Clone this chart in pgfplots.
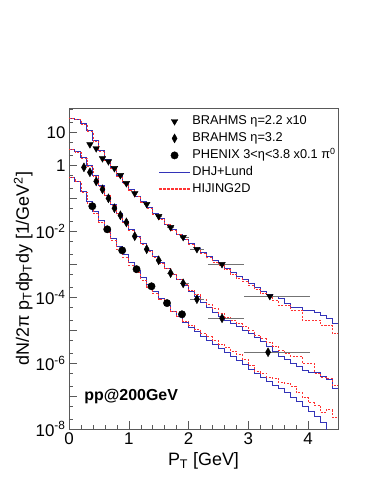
\documentclass[border=0pt]{standalone}
\usepackage{pgfplots}
\pgfplotsset{compat=1.18}
\usepackage{fontspec}
\setmainfont{Liberation Sans}
\definecolor{dhj}{rgb}{0.2,0.2,0.72}
\definecolor{hij}{rgb}{1,0.2,0.2}
\pgfplotsset{
  markleg/.style={legend image code/.code={\draw[##1] plot coordinates {(15.5bp,0bp)};}},
}
\begin{document}
\begin{tikzpicture}
\begin{axis}[
  at={(0,0)}, anchor=south west,
  width=269bp, height=321bp, scale only axis,
  xmin=0, xmax=4.5, ymode=log, ymin=1e-8, ymax=55,
  xtick={0,1,2,3,4}, xticklabels={0,1,2,3,4},
  minor x tick num=4,
  ytick={1e-8,1e-7,1e-6,1e-5,1e-4,1e-3,1e-2,1e-1,1,10},
  yticklabels={10\textsuperscript{-8},,10\textsuperscript{-6},,10\textsuperscript{-4},,10\textsuperscript{-2},,1,10},
  minor ytick={2e-8,5e-8,2e-7,5e-7,2e-6,5e-6,2e-5,5e-5,2e-4,5e-4,2e-3,5e-3,2e-2,5e-2,0.2,0.5,2,5,20,50},
  tick label style={font=\fontsize{17}{17}\selectfont},
  xlabel={P\textsubscript{T} [GeV]},
  ylabel={dN/2π p\textsubscript{T}dp\textsubscript{T}dy [1/GeV\textsuperscript{2}]},
  label style={font=\fontsize{18}{18}\selectfont},
  xlabel style={at={(axis description cs:0.5,-0.1)}, anchor=center},
  ylabel style={at={(axis description cs:-0.17,0.5)}, anchor=center},
  tick align=inside, xtick pos=bottom, ytick pos=left,
  major tick length=8bp, minor tick length=4bp,
  axis line style={black!65}, every tick/.style={black!65},
  legend cell align=left,
  legend style={draw=none, fill=none, at={(0.32,0.99)}, anchor=north west,
    font=\fontsize{12.8}{13}\selectfont,
    nodes={text height=10bp, text depth=3bp, inner sep=1.5bp}, row sep=1bp},
]
% ---- DHJ+Lund (blue) and HIJING2D (red dashed) histograms ----
\addplot[const plot mark left, color=dhj, line width=1bp, forget plot] coordinates {
(0,26.92)(0.1,25.12)(0.2,19.05)(0.3,11.22)(0.4,5.754)(0.5,2.818)(0.6,1.479)(0.7,0.8318)(0.8,0.5012)(0.9,0.3020)(1.0,0.1862)(1.1,0.1175)(1.2,7.762e-2)(1.3,5.129e-2)(1.4,3.467e-2)(1.5,2.399e-2)(1.6,1.660e-2)(1.7,1.148e-2)(1.8,8.128e-3)(1.9,5.754e-3)(2.0,4.169e-3)(2.1,3.020e-3)(2.2,2.239e-3)(2.3,1.660e-3)(2.4,1.259e-3)(2.5,9.550e-4)(2.6,7.413e-4)(2.7,5.623e-4)(2.8,4.365e-4)(2.9,3.388e-4)(3.0,2.630e-4)(3.1,1.995e-4)(3.2,1.514e-4)(3.3,1.175e-4)(3.4,1.047e-4)(3.5,9.333e-5)(3.6,6.607e-5)(3.7,5.012e-5)(3.8,5.012e-5)(3.9,4.074e-5)(4.0,4.074e-5)(4.1,3.548e-5)(4.2,2.818e-5)(4.3,2.291e-5)(4.4,1.622e-5)(4.5,1.622e-5)};
\addplot[const plot mark left, color=hij, line width=0.8bp, dash pattern=on 2bp off 1.5bp, forget plot] coordinates {
(0,26.30)(0.1,24.55)(0.2,17.78)(0.3,10.47)(0.4,5.370)(0.5,2.692)(0.6,1.413)(0.7,0.7943)(0.8,0.4786)(0.9,0.2884)(1.0,0.1778)(1.1,0.1122)(1.2,7.413e-2)(1.3,4.898e-2)(1.4,3.311e-2)(1.5,2.291e-2)(1.6,1.585e-2)(1.7,1.096e-2)(1.8,7.762e-3)(1.9,5.495e-3)(2.0,3.981e-3)(2.1,2.884e-3)(2.2,2.138e-3)(2.3,1.585e-3)(2.4,1.175e-3)(2.5,8.913e-4)(2.6,6.761e-4)(2.7,5.012e-4)(2.8,3.802e-4)(2.9,3.020e-4)(3.0,2.239e-4)(3.1,1.778e-4)(3.2,1.318e-4)(3.3,1.047e-4)(3.4,7.943e-5)(3.5,5.754e-5)(3.6,5.754e-5)(3.7,4.074e-5)(3.8,4.074e-5)(3.9,1.995e-5)(4.0,1.995e-5)(4.1,1.995e-5)(4.2,1.413e-5)(4.3,1.413e-5)(4.4,7.943e-6)(4.5,7.943e-6)};
\addplot[const plot mark left, color=dhj, line width=1bp, forget plot] coordinates {
(0,3.090)(0.1,2.630)(0.2,1.778)(0.3,1.0)(0.4,0.5012)(0.5,0.2512)(0.6,0.1259)(0.7,6.607e-2)(0.8,3.548e-2)(0.9,1.995e-2)(1.0,1.122e-2)(1.1,6.761e-3)(1.2,4.169e-3)(1.3,2.630e-3)(1.4,1.738e-3)(1.5,1.148e-3)(1.6,7.586e-4)(1.7,5.012e-4)(1.8,3.388e-4)(1.9,2.291e-4)(2.0,1.514e-4)(2.1,1.047e-4)(2.2,7.079e-5)(2.3,5.012e-5)(2.4,3.548e-5)(2.5,2.630e-5)(2.6,1.995e-5)(2.7,1.585e-5)(2.8,1.259e-5)(2.9,1.0e-5)(3.0,7.943e-6)(3.1,6.026e-6)(3.2,4.571e-6)(3.3,3.162e-6)(3.4,2.188e-6)(3.5,1.585e-6)(3.6,1.259e-6)(3.7,1.0e-6)(3.8,7.943e-7)(3.9,6.026e-7)(4.0,5.012e-7)(4.1,5.012e-7)(4.2,3.802e-7)(4.3,3.162e-7)(4.4,1.738e-7)(4.5,1.738e-7)};
\addplot[const plot mark left, color=hij, line width=0.8bp, dash pattern=on 2bp off 1.5bp, forget plot] coordinates {
(0,3.020)(0.1,2.512)(0.2,1.660)(0.3,0.9333)(0.4,0.4677)(0.5,0.2344)(0.6,0.1202)(0.7,6.310e-2)(0.8,3.388e-2)(0.9,1.905e-2)(1.0,1.072e-2)(1.1,6.457e-3)(1.2,3.981e-3)(1.3,2.512e-3)(1.4,1.660e-3)(1.5,1.096e-3)(1.6,7.413e-4)(1.7,5.012e-4)(1.8,3.467e-4)(1.9,2.399e-4)(2.0,1.660e-4)(2.1,1.175e-4)(2.2,8.318e-5)(2.3,6.026e-5)(2.4,4.467e-5)(2.5,3.311e-5)(2.6,2.512e-5)(2.7,1.995e-5)(2.8,1.585e-5)(2.9,1.259e-5)(3.0,9.550e-6)(3.1,7.079e-6)(3.2,5.495e-6)(3.3,4.365e-6)(3.4,3.311e-6)(3.5,2.512e-6)(3.6,1.905e-6)(3.7,1.585e-6)(3.8,1.585e-6)(3.9,1.0e-6)(4.0,1.0e-6)(4.1,5.012e-7)(4.2,3.802e-7)(4.3,3.548e-7)(4.4,2.138e-7)(4.5,2.138e-7)};
\addplot[const plot mark left, color=dhj, line width=1bp, forget plot] coordinates {
(0,0.4365)(0.1,0.3311)(0.2,0.1660)(0.3,7.943e-2)(0.4,3.981e-2)(0.5,2.089e-2)(0.6,1.122e-2)(0.7,6.166e-3)(0.8,3.467e-3)(0.9,1.950e-3)(1.0,1.122e-3)(1.1,6.607e-4)(1.2,3.981e-4)(1.3,2.399e-4)(1.4,1.445e-4)(1.5,8.913e-5)(1.6,5.623e-5)(1.7,3.715e-5)(1.8,2.512e-5)(1.9,1.738e-5)(2.0,1.230e-5)(2.1,8.913e-6)(2.2,6.607e-6)(2.3,4.898e-6)(2.4,3.631e-6)(2.5,2.692e-6)(2.6,2.042e-6)(2.7,1.549e-6)(2.8,1.175e-6)(2.9,8.913e-7)(3.0,6.607e-7)(3.1,4.786e-7)(3.2,3.548e-7)(3.3,2.754e-7)(3.4,2.138e-7)(3.5,1.660e-7)(3.6,1.259e-7)(3.7,9.333e-8)(3.8,6.607e-8)(3.9,4.677e-8)(4.0,3.311e-8)(4.1,2.344e-8)(4.2,1.585e-8)(4.3,5.012e-9)(4.4,3.162e-9)(4.5,3.162e-9)};
\addplot[const plot mark left, color=hij, line width=0.8bp, dash pattern=on 2bp off 1.5bp, forget plot] coordinates {
(0,0.4266)(0.1,0.3162)(0.2,0.1514)(0.3,7.079e-2)(0.4,3.467e-2)(0.5,1.820e-2)(0.6,9.550e-3)(0.7,5.248e-3)(0.8,2.884e-3)(0.9,1.622e-3)(1.0,9.333e-4)(1.1,5.495e-4)(1.2,3.311e-4)(1.3,2.042e-4)(1.4,1.288e-4)(1.5,8.318e-5)(1.6,5.495e-5)(1.7,3.715e-5)(1.8,2.630e-5)(1.9,1.905e-5)(2.0,1.413e-5)(2.1,1.072e-5)(2.2,8.128e-6)(2.3,6.310e-6)(2.4,4.898e-6)(2.5,3.802e-6)(2.6,3.020e-6)(2.7,2.344e-6)(2.8,1.820e-6)(2.9,1.318e-6)(3.0,8.710e-7)(3.1,5.623e-7)(3.2,5.012e-7)(3.3,3.802e-7)(3.4,3.548e-7)(3.5,2.630e-7)(3.6,2.399e-7)(3.7,1.995e-7)(3.8,1.259e-7)(3.9,8.913e-8)(4.0,6.310e-8)(4.1,5.370e-8)(4.2,3.162e-8)(4.3,3.802e-8)(4.4,2.291e-8)(4.5,2.291e-8)};
% ---- data ----
\addplot[only marks, mark=triangle*, mark size=3.8bp, mark options={rotate=180, black}, markleg,
  error bars/.cd, x dir=both, x explicit, error mark=none, error bar style={black!55, line width=0.7bp}]
coordinates {
(0.35,4.33) +- (0,0)
(0.455,3.27) +- (0,0)
(0.56,1.63) +- (0,0)
(0.66,1.318) +- (0,0)
(0.76,0.8128) +- (0,0)
(0.86,0.5012) +- (0,0)
(0.96,0.285) +- (0,0)
(1.10,0.1413) +- (0,0)
(1.30,6.607e-2) +- (0.04,0)
(1.50,2.85e-2) +- (0.05,0)
(1.70,1.318e-2) +- (0.06,0)
(1.91,6.607e-3) += (0.09,0) -= (0.06,0)
(2.14,2.85e-3) +- (0.12,0)
(2.56,1.0e-3) += (0.36,0) -= (0.23,0)
(3.36,1.072e-4) += (0.67,0) -= (0.43,0)
};
\addlegendentry{BRAHMS η=2.2 x10}
\addplot[only marks, mark=diamond*, mark size=4.5bp, mark options={xscale=0.75, black}, markleg,
  error bars/.cd, x dir=both, x explicit, error mark=none, error bar style={black!55, line width=0.7bp}]
coordinates {
(0.25,0.871) +- (0,0)
(0.35,0.6166) +- (0,0)
(0.455,0.3273) +- (0,0)
(0.56,0.1875) +- (0,0)
(0.66,0.1) +- (0,0)
(0.76,5.012e-2) +- (0,0)
(0.86,3.055e-2) +- (0,0)
(0.96,1.862e-2) +- (0,0)
(1.10,7.079e-3) +- (0,0)
(1.30,2.85e-3) +- (0.04,0)
(1.50,1.318e-3) +- (0.05,0)
(1.70,5.37e-4) +- (0.06,0)
(1.91,2.63e-4) += (0.09,0) -= (0.06,0)
(2.14,8.71e-5) +- (0.12,0)
(2.56,2.291e-5) += (0.36,0) -= (0.23,0)
(3.33,2.138e-6) += (0.70,0) -= (0.40,0)
};
\addlegendentry{BRAHMS η=3.2}
\addplot[only marks, mark=*, mark size=3.7bp, mark options={black}, markleg]
coordinates {
(0.39,5.754e-2)(0.64,1.148e-2)(0.89,2.63e-3)(1.13,7.079e-4)(1.38,2.138e-4)(1.64,6.607e-5)(1.89,3.02e-5)
};
\addlegendentry{PHENIX 3<η<3.8 x0.1 π\textsuperscript{0}}
\addlegendimage{legend image code/.code={\draw[color=dhj, line width=1.1bp] (0bp,0bp) -- (31bp,0bp);}}
\addlegendentry{DHJ+Lund}
\addlegendimage{legend image code/.code={\draw[color=hij, line width=1.6bp, dash pattern=on 2.5bp off 1.5bp] (0bp,0.3bp) -- (31bp,0.3bp);}}
\addlegendentry{HIJING2D}
\node[anchor=west, font=\bfseries\fontsize{16}{16}\selectfont] at (axis cs:0.2,1e-7) {pp@200GeV};
\end{axis}
\path[use as bounding box] (-69bp,-55bp) rectangle (305bp,429bp);
\end{tikzpicture}
\end{document}
